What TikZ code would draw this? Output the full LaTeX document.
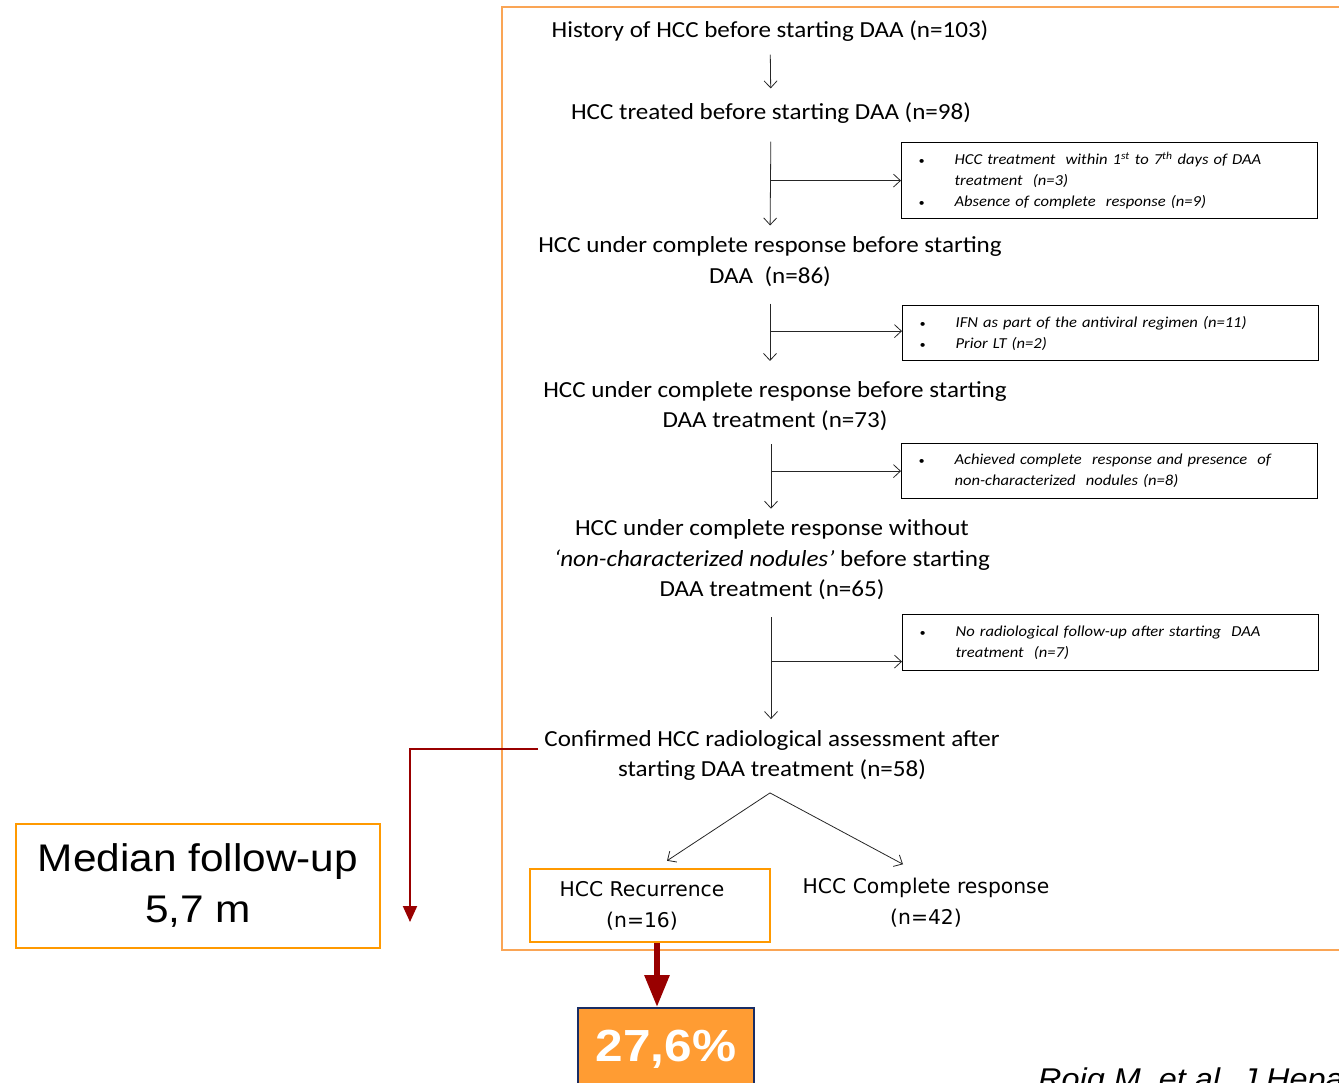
\documentclass[tikz,border=0pt]{standalone}
\usepackage{fontspec}
\setmainfont{Carlito}[FakeStretch=1.09]
\newfontfamily\arialfont{Liberation Sans}[FakeStretch=1.1]
\newfontfamily\citefont{Liberation Sans}[FakeStretch=1.08]
\newfontfamily\verdfont{DejaVu Sans}
\usetikzlibrary{arrows.meta}

\definecolor{frameorange}{RGB}{250,165,85}
\definecolor{boxorange}{RGB}{255,153,0}
\definecolor{fillorange}{RGB}{255,156,51}
\definecolor{darkred}{RGB}{153,0,0}
\definecolor{navyline}{RGB}{25,45,100}

\newcommand{\bul}{\makebox[37pt][l]{\hspace{1pt}{\fontsize{11}{11}\selectfont\textbullet}}}
\newcommand{\cont}{\hspace*{37pt}}

\tikzset{
	stage/.style={align=center, inner sep=0pt, font=\fontsize{23}{30.5}\selectfont},
	excl/.style={draw, line width=1.2pt, anchor=north west, text width=384pt, inner xsep=16pt,
		inner ysep=0pt, align=left, font=\fontsize{15.2}{21}\selectfont\itshape},
	arr/.style={-{Straight Barb[length=7pt,width=13pt]}, line width=0.8pt, black!85},
}

\begin{document}
\begin{tikzpicture}[x=1pt,y=-1pt]

		\clip (0,0) rectangle (1339,1082);
		
		% frame round the flow
		\draw [frameorange, line width=1.5pt] (502,7) rectangle (1360,950);
		
		\node [stage] (t1) at (770,31) {History of HCC before starting DAA (n=103)};
		\node [stage] (t2) at (771,113) {HCC treated before starting DAA (n=98)};
		\node [stage] (t3) at (770,261.5) {HCC under complete response before starting\\DAA~ (n=86)};
		\node [stage] (t4) at (775,406) {HCC under complete response before starting\\DAA treatment (n=73)};
		\node [stage] (t5) at (772,560) {HCC under complete response without\\\textit{‘non-characterized nodules’} before starting\\DAA treatment (n=65)};
		\node [stage] (t6) at (772,755.5) {Confirmed HCC radiological assessment after\\starting DAA treatment (n=58)};
		
		% exclusions
		\node [excl, minimum height=76pt] (e1) at (901,142) {\bul HCC treatment~ within 1\textsuperscript{st} to 7\textsuperscript{th} days of DAA\\\cont treatment~ (n=3)\\\bul Absence of complete~ response (n=9)};
		\node [excl, minimum height=55pt] (e2) at (902,305) {\bul IFN as part of the antiviral regimen (n=11)\\\bul Prior LT (n=2)};
		\node [excl, minimum height=55pt] (e3) at (901,443) {\bul Achieved complete~ response and presence~ of\\\cont non-characterized~ nodules (n=8)};
		\node [excl, minimum height=56pt] (e4) at (902,614) {\bul No radiological follow-up after starting~ DAA\\\cont treatment~ (n=7)};
		
		\draw [arr, shorten <=13pt, shorten >=14pt] (t1) -- (t2);
		\draw [arr, shorten <=18pt, shorten >=11pt] (t2.south) -- (t3.north);
		\draw [arr, shorten <=17pt, shorten >=20pt] (t3.south) -- (t4.north -| t3.south);
		\draw [arr, shorten <=13pt, shorten >=11pt] (t4.south -| t2.south) -- (t5.north -| t2.south);
		\draw [arr, shorten <=17pt, shorten >=11pt] (t5.south -| t2.south) -- (t6.north -| t2.south);
		
		\draw [arr] (t2.south |- e1.west) -- (e1.west);
		\draw [arr] ([yshift=2pt]t2.south |- e2.west) -- ([yshift=2pt]e2.west);
		\draw [arr] (t2.south |- e3.west) -- (e3.west);
		\draw [arr] ([yshift=-19pt]t2.south |- e4.west) -- ([yshift=-19pt]e4.west);
		
		% outcome
		\node [draw=boxorange, line width=2.5pt, minimum width=240pt, minimum height=73pt, align=center,
			font=\verdfont\fontsize{20.3}{31}\selectfont] (rec) at (650,905.5) {HCC Recurrence\hspace*{16pt}\\(n=16)\hspace*{16pt}};
		\node [align=center, inner sep=0pt, font=\verdfont\fontsize{20.3}{31}\selectfont] (cr) at (926,903) {HCC Complete response\\(n=42)};
		
		\coordinate (apex) at ([xshift=-2pt,yshift=-12pt]t6.south);
		\draw [arr] (apex) -- ([xshift=17pt,yshift=7pt]rec.north);
		\draw [arr] (apex) -- ([xshift=-23pt,yshift=14pt]cr.north);
		
		\node [draw=navyline, fill=fillorange, line width=2pt, minimum width=176pt, minimum height=83pt,
			anchor=north, text=white, font=\arialfont\bfseries\fontsize{45}{50}\selectfont] (pct) at (666,1007) {27,6\%};
		\draw [darkred, line width=6pt, -{Triangle[length=32pt,width=24pt]}] ([xshift=7pt]rec.south) -- ([xshift=7pt]rec.south |- pct.north);
		
		\node [draw=boxorange, line width=2.5pt, minimum width=364pt, minimum height=124pt, align=center,
			font=\arialfont\fontsize{38.5}{51}\selectfont] (fu) at (198,886) {Median follow-up\\5,7 m};
		\coordinate (fuend) at (410,922);
		\draw [darkred, line width=2pt, -{Triangle[length=16pt,width=14pt]}] ([xshift=-6pt,yshift=7pt]t6.west) -| (fuend);
		
		\node [anchor=base west, inner sep=0pt, font=\citefont\itshape\fontsize{30}{32}\selectfont] (ref) at (1038,1089) {Roig M, et al. J Hepatol};
\end{tikzpicture}
\end{document}
